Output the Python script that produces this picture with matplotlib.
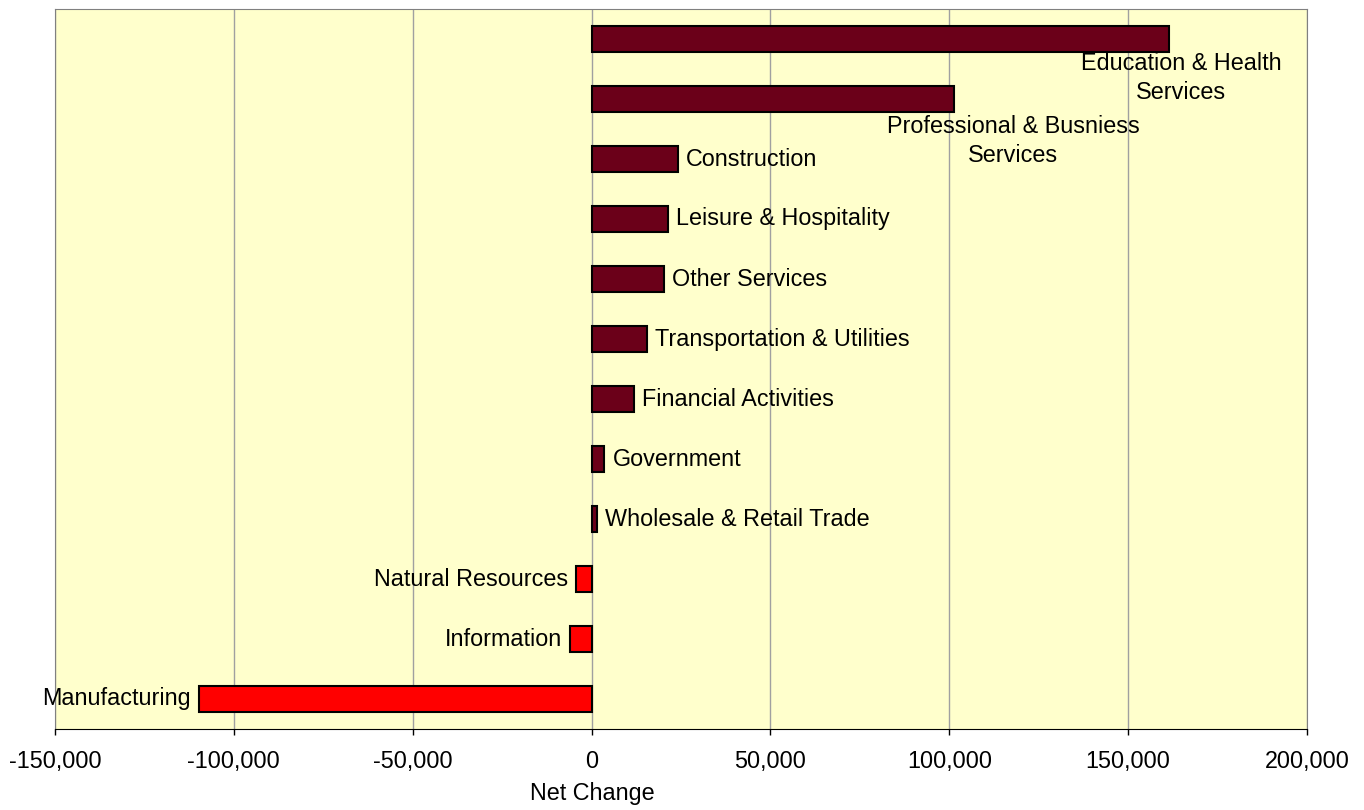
import matplotlib
matplotlib.use("Agg")
from matplotlib import pyplot as plt
from matplotlib.ticker import FuncFormatter

# Data (top to bottom)
sectors = [
    "Education & Health\nServices",
    "Professional & Busniess\nServices",
    "Construction",
    "Leisure & Hospitality",
    "Other Services",
    "Transportation & Utilities",
    "Financial Activities",
    "Government",
    "Wholesale & Retail Trade",
    "Natural Resources",
    "Information",
    "Manufacturing",
]
net_change = [161400, 101400, 24200, 21300, 20200, 15600, 12000, 3600, 1400, -4300, -6000, -109800]
x_ticks = [-150000, -100000, -50000, 0, 50000, 100000, 150000, 200000]


def main():
    plt.rcParams["font.family"] = ["Liberation Sans", "DejaVu Sans"]
    plt.rcParams["font.size"] = 16.8

    fig = plt.figure(figsize=(13.64, 8.10), dpi=100)
    ax = fig.add_axes([55 / 1364, 1 - 729 / 810, 1252 / 1364, 720 / 810])
    ax.set_facecolor("#FFFFCC")

    pos = list(range(len(sectors)))
    colors = ["#6B0019" if v >= 0 else "#FF0000" for v in net_change]
    ax.barh(pos, net_change, height=0.42, color=colors, edgecolor="black", linewidth=1.5, zorder=3)

    ax.set_xlim(x_ticks[0], x_ticks[-1])
    ax.set_ylim(11.5, -0.5)
    ax.set_xticks(x_ticks)
    ax.xaxis.set_major_formatter(FuncFormatter(lambda v, _: f"{int(v):,}"))
    ax.set_yticks([])
    ax.grid(axis="x", color="#A0A0A0", linewidth=1, zorder=0)
    ax.tick_params(axis="x", length=4.5, width=1, pad=10.5, direction="out")

    for side in ["top", "right", "left"]:
        ax.spines[side].set_color("#808080")
    ax.spines["bottom"].set_color("black")

    # labels
    for i, (name, v) in enumerate(zip(sectors, net_change)):
        if i == 0:
            ax.annotate(name, (v, i), xytext=(12, -39), textcoords="offset pixels",
                        ha="center", va="center", linespacing=1.35, zorder=4)
        elif i == 1:
            ax.annotate(name, (v, i), xytext=(59, -42), textcoords="offset pixels",
                        ha="center", va="center", linespacing=1.35, zorder=4)
        elif v >= 0:
            ax.annotate(name, (v, i), xytext=(8, 0), textcoords="offset pixels",
                        ha="left", va="center", zorder=4)
        else:
            ax.annotate(name, (v, i), xytext=(-8, 0), textcoords="offset pixels",
                        ha="right", va="center", zorder=4)

    ax.set_xlabel("Net Change")
    ax.xaxis.set_label_coords((592 - 55) / 1252, -0.074)

    fig.savefig("out.png", dpi=100)


if __name__ == "__main__":
    main()
